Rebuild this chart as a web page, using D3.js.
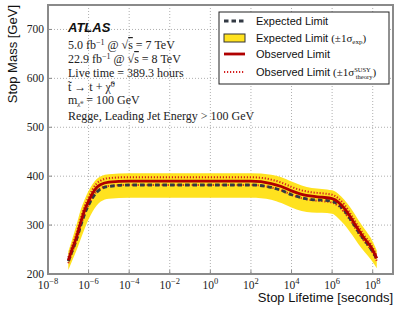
<!DOCTYPE html>
<html>
<head>
<meta charset="utf-8">
<script src="https://cdn.jsdelivr.net/npm/d3@7"></script>
<style>
  body { margin: 0; background: #fff; }
  svg { display: block; }
</style>
</head>
<body>
<div id="chart"></div>
<script>
// log10 of stop lifetime [s]
const logLifetime = [-7, -6.8, -6.6, -6.4, -6.2, -6, -5.8, -5.6, -5.4, -5, -4, -2, 0, 2, 3, 3.5, 4, 4.5, 5, 5.5, 6, 6.3, 6.6, 7, 7.3, 7.6, 7.9, 8.2];
const observed = [228, 252, 275, 304, 330, 349, 365, 377, 383, 388, 390, 390, 390, 390, 385, 379, 370, 363, 359, 357, 354, 347, 334, 310, 290, 272, 256, 232];
const obsUp = [234, 259, 283, 312, 338, 357, 373, 385, 391, 396, 398, 398, 398, 398, 393, 387, 378, 371, 367, 365, 362, 355, 342, 317, 297, 278, 262, 237];
const obsDown = [222, 245, 267, 296, 322, 341, 357, 369, 375, 380, 382, 382, 382, 382, 377, 371, 362, 355, 351, 349, 346, 339, 326, 303, 283, 266, 250, 227];
const expected = [226, 248, 270, 297, 322, 341, 356, 367, 374, 379, 382, 382, 382, 382, 377, 371, 362, 356, 352, 351, 349, 342, 330, 306, 286, 269, 252, 231];
const expUp = [246, 272, 300, 330, 352, 370, 384, 394, 400, 404, 406, 406, 406, 406, 403, 398, 389, 381, 376, 374, 371, 364, 352, 330, 310, 292, 274, 248];
const expDown = [208, 228, 248, 270, 292, 312, 328, 340, 348, 354, 356, 356, 356, 356, 352, 345, 336, 329, 326, 325, 323, 314, 301, 279, 261, 245, 230, 212];

const xTicks = [1e-8, 1e-6, 1e-4, 1e-2, 1, 1e2, 1e4, 1e6, 1e8];
const yTicks = [200, 300, 400, 500, 600, 700];

const W = 399, H = 311;
const margin = { top: 5, right: 6, bottom: 37, left: 48 };
const iw = W - margin.left - margin.right;
const ih = H - margin.top - margin.bottom;

const serif = "'Liberation Serif', 'DejaVu Serif', serif";
const sans = "'Liberation Sans', Arial, sans-serif";

const svg = d3.select('#chart').append('svg')
  .attr('width', W).attr('height', H);
const g = svg.append('g').attr('transform', `translate(${margin.left},${margin.top})`);

const x = d3.scaleLog().domain([1e-8, 1e9]).range([0, iw]);
const y = d3.scaleLinear().domain([200, 750]).range([ih, 0]);

const pts = logLifetime.map((l, i) => ({
  t: Math.pow(10, l), obs: observed[i], oU: obsUp[i], oD: obsDown[i],
  exp: expected[i], eU: expUp[i], eD: expDown[i]
}));

// grid
const grid = g.append('g').attr('stroke', '#9a9a9a').attr('stroke-width', 0.8)
  .attr('stroke-dasharray', '1,2');
grid.selectAll('.gx').data(xTicks.slice(1)).enter().append('line')
  .attr('x1', d => x(d)).attr('x2', d => x(d)).attr('y1', 0).attr('y2', ih);
grid.selectAll('.gy').data(yTicks.slice(1)).enter().append('line')
  .attr('x1', 0).attr('x2', iw).attr('y1', d => y(d)).attr('y2', d => y(d));

// band
const area = d3.area().curve(d3.curveMonotoneX)
  .x(d => x(d.t)).y0(d => y(d.eD)).y1(d => y(d.eU));
g.append('path').datum(pts).attr('d', area).attr('fill', '#ffe21f');

const line = key => d3.line().curve(d3.curveMonotoneX).x(d => x(d.t)).y(d => y(d[key]));

g.append('path').datum(pts).attr('d', line('oU')).attr('fill', 'none')
  .attr('stroke', '#d42020').attr('stroke-width', 2).attr('stroke-dasharray', '1.2,1.8');
g.append('path').datum(pts).attr('d', line('oD')).attr('fill', 'none')
  .attr('stroke', '#d42020').attr('stroke-width', 2).attr('stroke-dasharray', '1.2,1.8');
g.append('path').datum(pts).attr('d', line('exp')).attr('fill', 'none')
  .attr('stroke', '#333a44').attr('stroke-width', 2.8).attr('stroke-dasharray', '4.5,3');
g.append('path').datum(pts).attr('d', line('obs')).attr('fill', 'none')
  .attr('stroke', '#b00000').attr('stroke-width', 2.8);

// frame
g.append('rect').attr('width', iw).attr('height', ih).attr('fill', 'none')
  .attr('stroke', '#8a8a8a').attr('stroke-width', 2);

// ticks
const tk = g.append('g').attr('stroke', '#8a8a8a').attr('stroke-width', 1);
tk.selectAll('.tx').data(xTicks).enter().append('line')
  .attr('x1', d => x(d)).attr('x2', d => x(d)).attr('y1', ih).attr('y2', ih - 4);
tk.selectAll('.ty').data(yTicks).enter().append('line')
  .attr('x1', 0).attr('x2', 4).attr('y1', d => y(d)).attr('y2', d => y(d));

// tick labels
g.selectAll('.yl').data(yTicks).enter().append('text')
  .attr('x', -4).attr('y', d => y(d) + 4)
  .attr('text-anchor', 'end').attr('font-family', serif).attr('font-size', 11.5)
  .attr('fill', '#222').text(d => d);

const xl = g.selectAll('.xl').data(xTicks).enter().append('text')
  .attr('x', d => x(d)).attr('y', ih + 15)
  .attr('text-anchor', 'middle').attr('font-family', serif).attr('font-size', 11.5)
  .attr('fill', '#222');
xl.append('tspan').text('10');
xl.append('tspan').attr('dy', -5).attr('font-size', 8.5)
  .text(d => { const e = Math.round(Math.log10(d)); return e < 0 ? '\u2212' + (-e) : e; });

// axis titles
svg.append('text')
  .attr('transform', `translate(17,${margin.top}) rotate(-90)`)
  .attr('text-anchor', 'end').attr('font-family', sans).attr('font-size', 13)
  .attr('fill', '#111').text('Stop Mass [GeV]');
svg.append('text')
  .attr('x', margin.left + iw).attr('y', H - 9)
  .attr('text-anchor', 'end').attr('font-family', sans).attr('font-size', 13)
  .attr('fill', '#111').text('Stop Lifetime [seconds]');

// annotations
svg.append('text').attr('x', 68).attr('y', 32)
  .attr('font-family', sans).attr('font-style', 'italic').attr('font-weight', 'bold')
  .attr('font-size', 13).attr('fill', '#111').text('ATLAS');

const ann = svg.append('g').attr('font-family', serif).attr('font-size', 12).attr('fill', '#222');
function addLine(yy, parts) {
  const t = ann.append('text').attr('x', 68).attr('y', yy);
  parts.forEach(p => {
    const s = t.append('tspan').text(p.s);
    if (p.sup) s.attr('font-size', 8).attr('dy', -4);
    if (p.sub) s.attr('font-size', 7).attr('dy', 2);
    if (p.back) s.attr('dy', p.back);
    if (p.over) s.attr('text-decoration', 'overline');
  });
}
addLine(49, [{ s: '5.0  fb' }, { s: '\u22121', sup: true }, { s: ' @ \u221A', back: 4 }, { s: 's', over: true }, { s: ' = 7 TeV' }]);
addLine(63, [{ s: '22.9 fb' }, { s: '\u22121', sup: true }, { s: ' @ \u221A', back: 4 }, { s: 's', over: true }, { s: ' = 8 TeV' }]);
addLine(77, [{ s: 'Live time = 389.3 hours' }]);
addLine(91, [{ s: 't\u0303 \u2192  t + \u03C7\u0303' }, { s: '0', sup: true }]);
addLine(104, [{ s: 'm' }, { s: '\u03C7\u0303\u2070', sub: true }, { s: ' = 100 GeV', back: -2 }]);
addLine(120, [{ s: 'Regge,  Leading Jet Energy > 100 GeV' }]);

// legend
const lg = svg.append('g').attr('transform', 'translate(219,12)');
lg.append('rect').attr('width', 170).attr('height', 72).attr('fill', '#fff')
  .attr('stroke', '#222').attr('stroke-width', 1);
const ly = [9, 26, 42, 60];
lg.append('line').attr('x1', 5).attr('x2', 26).attr('y1', ly[0]).attr('y2', ly[0])
  .attr('stroke', '#333a44').attr('stroke-width', 2.8).attr('stroke-dasharray', '4.5,3');
lg.append('rect').attr('x', 5).attr('y', ly[1] - 4).attr('width', 21).attr('height', 8)
  .attr('fill', '#ffe21f').attr('stroke', '#333').attr('stroke-width', 1);
lg.append('line').attr('x1', 5).attr('x2', 26).attr('y1', ly[2]).attr('y2', ly[2])
  .attr('stroke', '#b00000').attr('stroke-width', 2.8);
lg.append('line').attr('x1', 5).attr('x2', 26).attr('y1', ly[3]).attr('y2', ly[3])
  .attr('stroke', '#d42020').attr('stroke-width', 2).attr('stroke-dasharray', '1.2,1.8');

const lt = lg.append('g').attr('font-family', sans).attr('font-size', 11).attr('fill', '#111');
lt.append('text').attr('x', 37).attr('y', ly[0] + 4).text('Expected Limit');
const t2 = lt.append('text').attr('x', 37).attr('y', ly[1] + 4);
t2.append('tspan').text('Expected Limit ');
t2.append('tspan').attr('font-family', serif).text('(\u00B11\u03C3');
t2.append('tspan').attr('font-family', serif).attr('font-size', 7).attr('dy', 2).text('exp');
t2.append('tspan').attr('font-family', serif).attr('dy', -2).text(')');
lt.append('text').attr('x', 37).attr('y', ly[2] + 4).text('Observed Limit');
const t4 = lt.append('text').attr('x', 37).attr('y', ly[3] + 4);
t4.append('tspan').text('Observed Limit ');
t4.append('tspan').attr('font-family', serif).text('(\u00B11\u03C3');
t4.append('tspan').attr('font-family', serif).attr('font-size', 6.5).attr('dy', -4).text('SUSY');
t4.append('tspan').attr('font-family', serif).attr('font-size', 6.5).attr('dx', -15).attr('dy', 7).text('theory');
t4.append('tspan').attr('font-family', serif).attr('dy', -3).text(')');
</script>
</body>
</html>
